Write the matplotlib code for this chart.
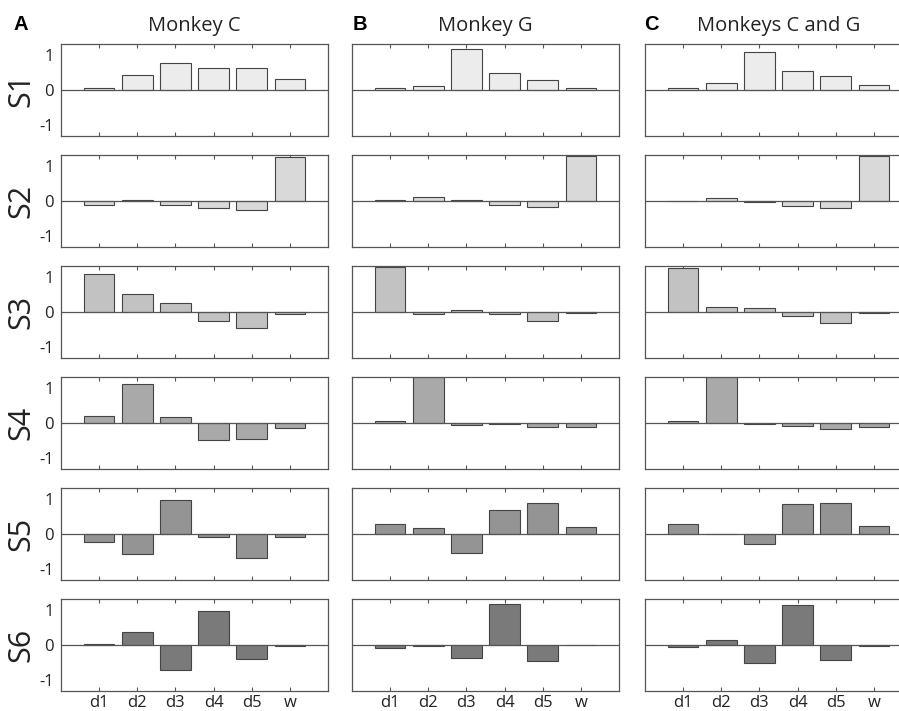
import numpy as np
import matplotlib
matplotlib.use("Agg")
import matplotlib.pyplot as plt

plt.rcParams['font.family'] = ['Open Sans', 'DejaVu Sans']
plt.rcParams['axes.unicode_minus'] = False

categories = ['d1', 'd2', 'd3', 'd4', 'd5', 'w']
rows = ['S1', 'S2', 'S3', 'S4', 'S5', 'S6']
titles = ['Monkey C', 'Monkey G', 'Monkeys C and G']
letters = ['A', 'B', 'C']

# synergy weights
monkey_c = [
    [0.06, 0.43, 0.77, 0.62, 0.63, 0.31],
    [-0.11, 0.03, -0.11, -0.20, -0.26, 1.25],
    [1.06, 0.51, 0.25, -0.25, -0.46, -0.05],
    [0.19, 1.09, 0.17, -0.48, -0.45, -0.13],
    [-0.23, -0.56, 0.95, -0.08, -0.67, -0.08],
    [0.04, 0.37, -0.71, 0.95, -0.40, -0.03],
]
monkey_g = [
    [0.05, 0.10, 1.16, 0.48, 0.28, 0.06],
    [0.03, 0.12, 0.02, -0.11, -0.17, 1.28],
    [1.27, -0.05, 0.06, -0.07, -0.25, -0.03],
    [0.06, 1.30, -0.06, -0.04, -0.11, -0.12],
    [0.28, 0.16, -0.53, 0.69, 0.89, 0.20],
    [-0.08, -0.02, -0.38, 1.17, -0.45, -0.01],
]
monkey_cg = [
    [0.05, 0.21, 1.08, 0.54, 0.40, 0.13],
    [0.005, 0.09, -0.02, -0.13, -0.21, 1.28],
    [1.25, 0.14, 0.11, -0.12, -0.32, -0.03],
    [0.07, 1.30, -0.03, -0.09, -0.16, -0.12],
    [0.27, 0.01, -0.28, 0.86, 0.87, 0.23],
    [-0.05, 0.13, -0.51, 1.12, -0.43, -0.02],
]
panels = [monkey_c, monkey_g, monkey_cg]

row_colors = ['#ececec', '#d9d9d9', '#c2c2c2', '#a9a9a9', '#949494', '#7a7a7a']

W, H = 899, 711
fig = plt.figure(figsize=(W / 100, H / 100), dpi=100)

col_left = [61, 352, 645]
letter_x = [14, 353, 644]
ax_w, ax_h = 267, 92
row_top = [44, 155, 266, 377, 488, 599]
x = np.arange(1, 7)

for c, data in enumerate(panels):
    for r in range(6):
        ax = fig.add_axes([col_left[c] / W, (H - row_top[r] - ax_h) / H, ax_w / W, ax_h / H])
        ax.bar(x, data[r], width=0.8, color=row_colors[r], edgecolor='#444444', linewidth=0.8, zorder=2)
        ax.axhline(0, color='#555555', linewidth=0.9, zorder=3)
        ax.set_xlim(0, 7)
        ax.set_ylim(-1.3, 1.3)
        ax.set_xticks(x)
        ax.set_yticks([-1, 0, 1])
        ax.tick_params(axis='x', direction='in', length=3, top=True, color='#555555', pad=3, labelsize=12)
        ax.tick_params(axis='y', length=0, pad=5, labelsize=12, labelcolor='#222222')
        if c == 0:
            ax.set_yticklabels(['-1', '0', '1'])
            ax.set_ylabel(rows[r], fontsize=22, labelpad=2, color='#222222')
        else:
            ax.set_yticklabels([])
        if r == 5:
            ax.set_xticklabels(categories, color='#222222')
        else:
            ax.set_xticklabels([])
        for s in ax.spines.values():
            s.set_color('#555555')
            s.set_linewidth(0.9)
        if r == 0:
            ax.set_title(titles[c], fontsize=14.5, pad=9, color='#222222')

for c, lt in enumerate(letters):
    fig.text(letter_x[c] / W, 1 - 24 / H, lt, fontsize=14.5, fontweight='bold',
             family=['Liberation Sans', 'DejaVu Sans'], va='center', ha='left')

fig.savefig('out.png', dpi=100)
